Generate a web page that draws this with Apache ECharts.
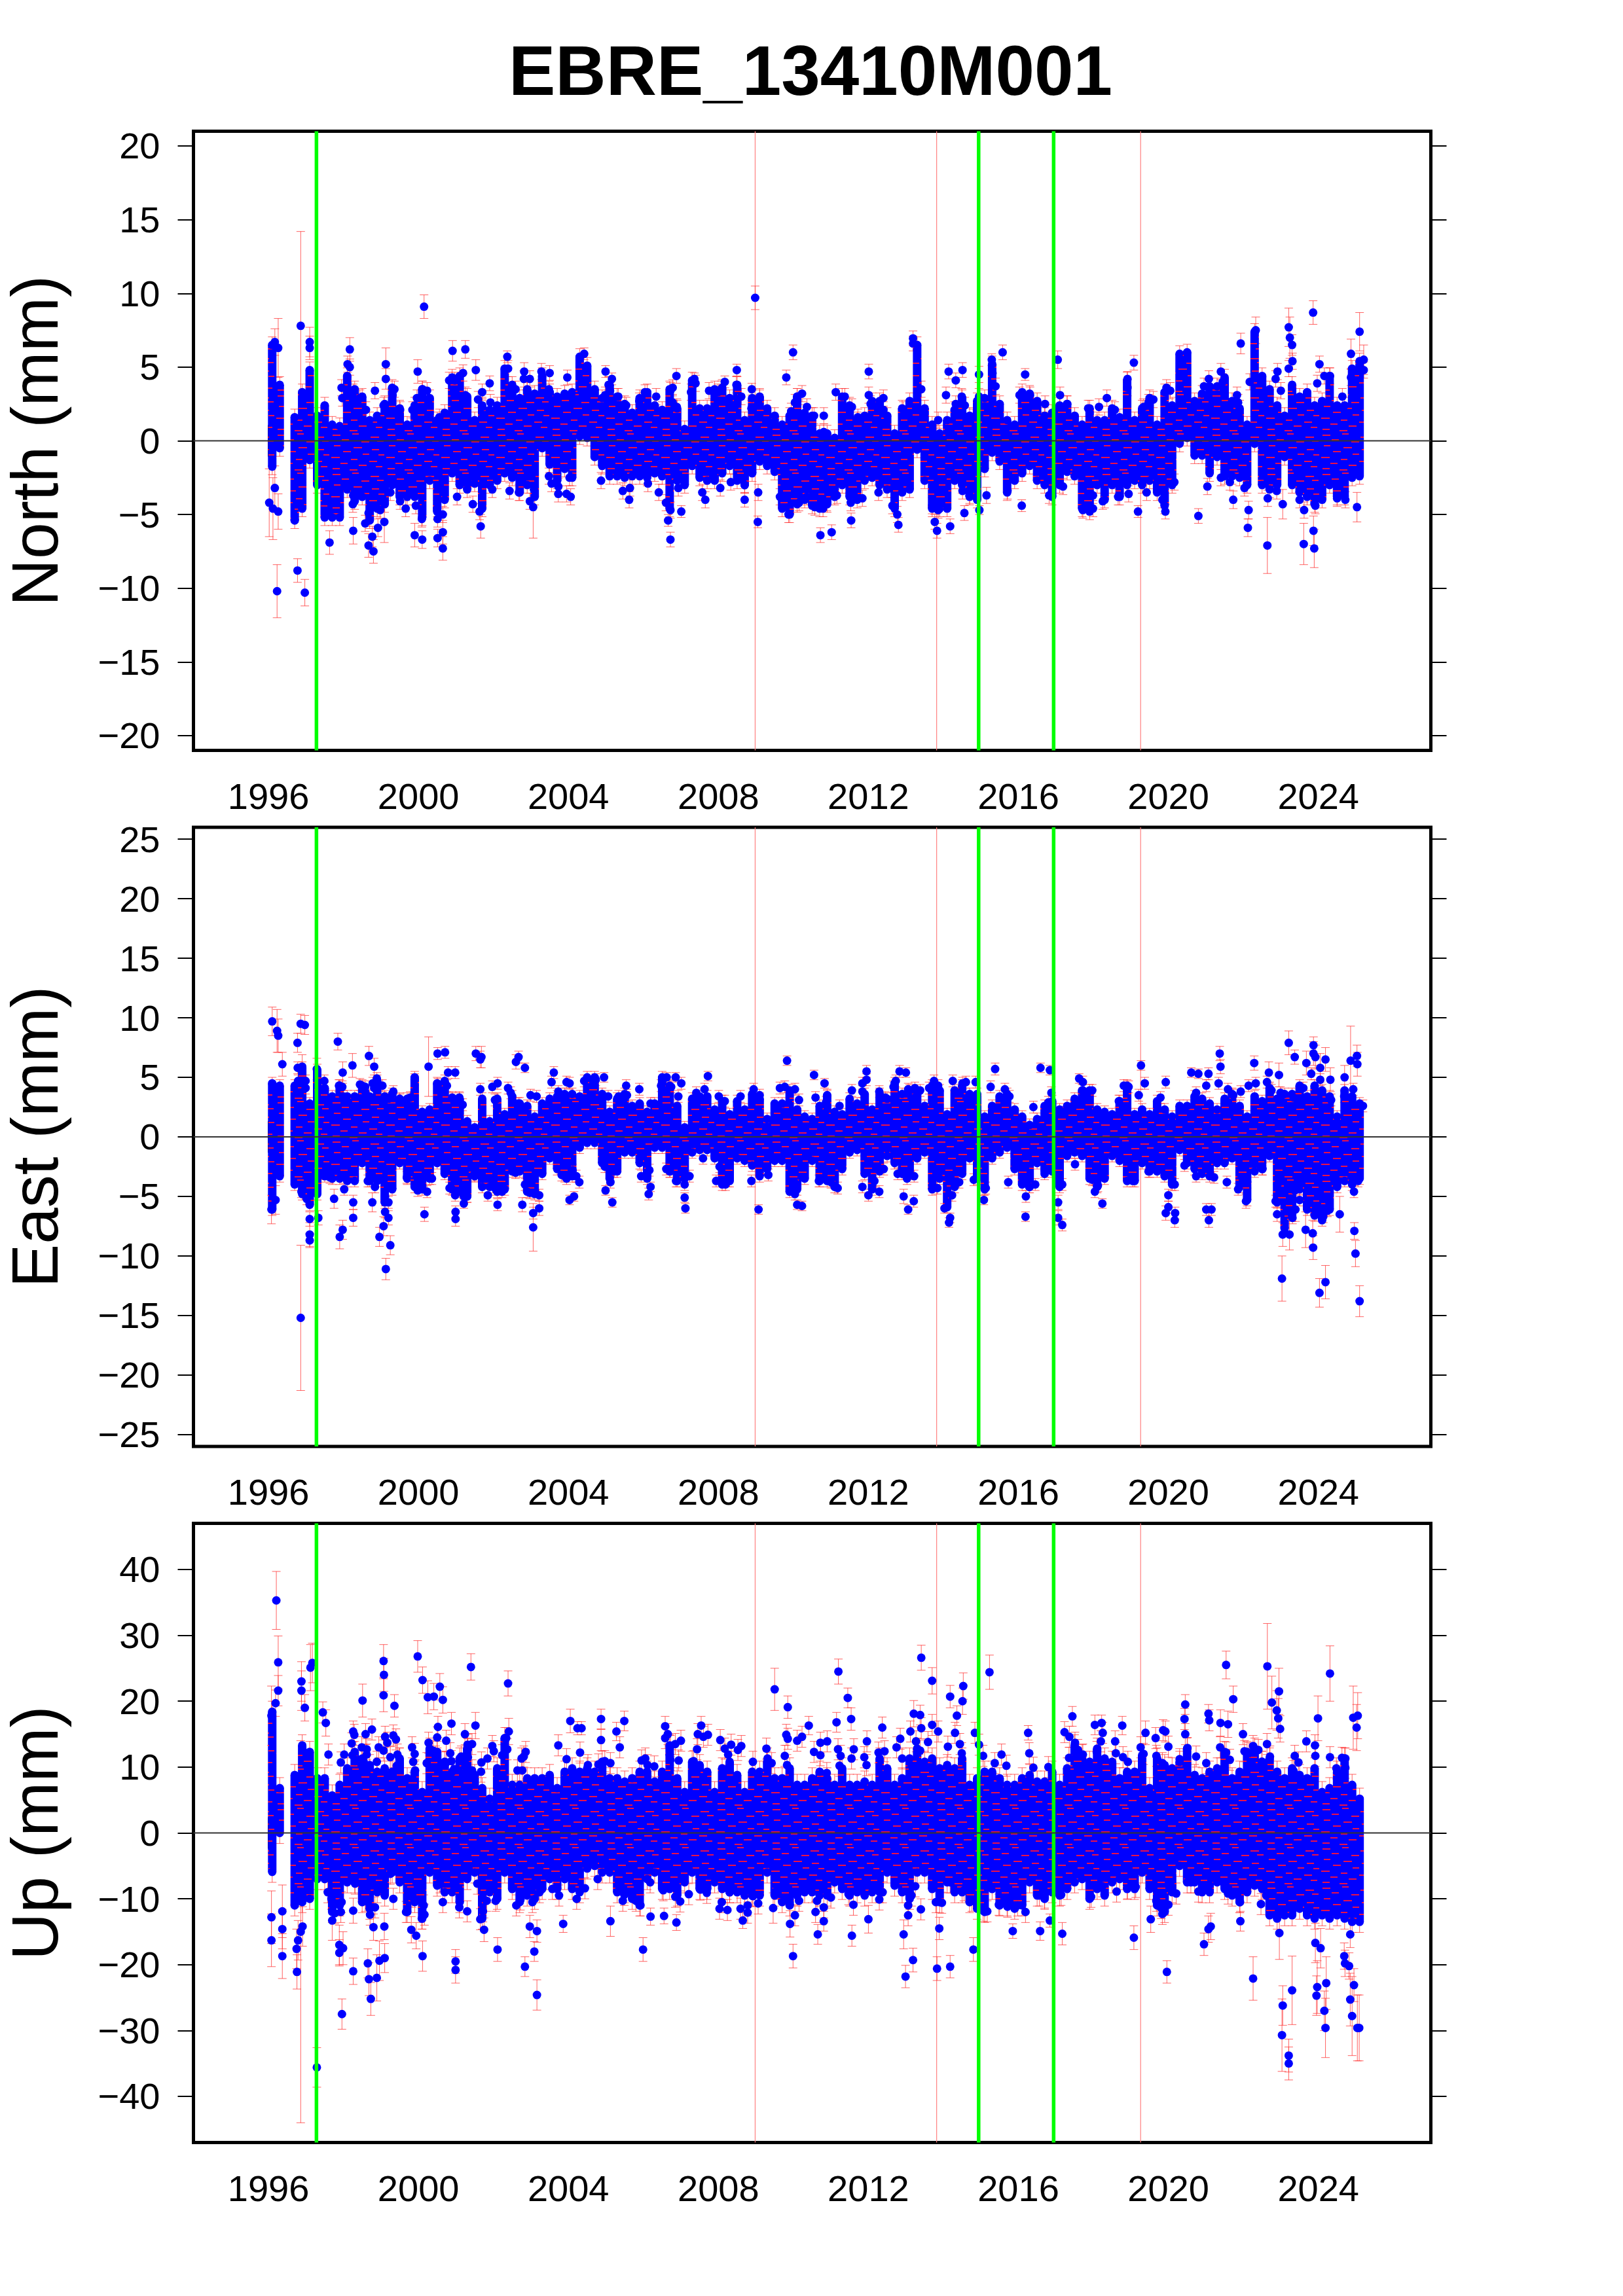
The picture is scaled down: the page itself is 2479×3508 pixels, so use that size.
<!DOCTYPE html>
<html><head><meta charset="utf-8">
<script src="https://cdn.jsdelivr.net/npm/echarts@6/dist/echarts.min.js"></script>
<style>html,body{margin:0;padding:0;background:#fff}#c{width:2479px;height:3508px}</style>
</head><body><div id="c"></div>
<script>
const stationTitle = 'EBRE_13410M001';
const panelNames = ['North (mm)', 'East (mm)', 'Up (mm)'];
const xTicks = [1996,2000,2004,2008,2012,2016,2020,2024];
const northTicks = [-20,-15,-10,-5,0,5,10,15,20];
const eastTicks = [-25,-20,-15,-10,-5,0,5,10,15,20,25];
const upTicks = [-40,-30,-20,-10,0,10,20,30,40];
const yLimits = [21, 26, 47];
const greenBreaks = [1997.28, 2014.94, 2016.94];
const redBreaks = [2008.98, 2013.82, 2019.26];

// Time bins of the dense daily cloud: its upper and lower edge read per bin.
const binYears = [
1996.1,1996.3,1996.5,1996.7,1996.9, 1997.1,1997.3,1997.5,1997.7,1997.9,
1998.1,1998.3,1998.5,1998.7,1998.9, 1999.1,1999.3,1999.5,1999.7,1999.9,
2000.1,2000.3,2000.5,2000.7,2000.9, 2001.1,2001.3,2001.5,2001.7,2001.9,
2002.1,2002.3,2002.5,2002.7,2002.9, 2003.1,2003.3,2003.5,2003.7,2003.9,
2004.1,2004.3,2004.5,2004.7,2004.9, 2005.1,2005.3,2005.5,2005.7,2005.9,
2006.1,2006.3,2006.5,2006.7,2006.9, 2007.1,2007.3,2007.5,2007.7,2007.9,
2008.1,2008.3,2008.5,2008.7,2008.9, 2009.1,2009.3,2009.5,2009.7,2009.9,
2010.1,2010.3,2010.5,2010.7,2010.9, 2011.1,2011.3,2011.5,2011.7,2011.9,
2012.1,2012.3,2012.5,2012.7,2012.9, 2013.1,2013.3,2013.5,2013.7,2013.9,
2014.1,2014.3,2014.5,2014.7,2014.9, 2015.1,2015.3,2015.5,2015.7,2015.9,
2016.1,2016.3,2016.5,2016.7,2016.9, 2017.1,2017.3,2017.5,2017.7,2017.9,
2018.1,2018.3,2018.5,2018.7,2018.9, 2019.1,2019.3,2019.5,2019.7,2019.9,
2020.1,2020.3,2020.5,2020.7,2020.9, 2021.1,2021.3,2021.5,2021.7,2021.9,
2022.1,2022.3,2022.5,2022.7,2022.9, 2023.1,2023.3,2023.5,2023.7,2023.9,
2024.1,2024.3,2024.5,2024.7,2024.9, 2025.1];

const northHi = [
6.5,3.8,null,1.6,3.3, 4.8,1.7,2.4,1.1,1.0,
4.4,3.5,3.0,1.4,1.7, 2.5,3.6,2.2,1.1,2.4,
3.5,2.9,1.4,1.9,4.3, 4.4,3.0,1.4,2.4,2.1,
2.4,4.9,3.8,2.9,3.5, 3.2,4.4,3.3,3.0,3.2,
3.3,5.7,5.1,3.5,2.9, 3.8,3.0,2.5,1.9,2.9,
3.3,2.4,2.1,3.5,2.2, 0.8,4.1,2.2,2.2,3.5,
3.6,2.9,3.8,1.4,2.9, 3.0,2.2,1.7,1.1,1.7,
3.0,1.9,1.7,0.5,0.5, 0.2,3.0,2.4,1.4,1.7,
2.7,2.7,1.7,0.5,2.2, 2.7,6.5,2.2,1.1,0.5,
1.4,2.1,2.9,1.7,2.7, 2.9,5.2,2.5,1.4,1.1,
3.3,3.2,2.7,1.7,1.9, 2.4,2.5,1.7,1.1,2.2,
1.4,1.4,2.2,1.6,4.1, 1.4,2.2,2.9,1.1,3.3,
2.4,5.9,6.0,2.7,3.2, 3.7,3.7,4.3,2.7,2.2,
1.1,7.4,4.4,3.5,2.4, 1.7,3.8,3.0,3.3,2.4,
2.7,4.4,2.4,2.4,4.9, 5.4];
const northLo = [
-1.75,-0.5,null,-5.4,-4.6, -1.3,-3.0,-5.2,-5.2,-5.2,
-3.3,-4.1,-3.8,-5.4,-4.6, -4.3,-3.0,-3.8,-3.8,-3.8,
-5.2,-2.7,-4.8,-4.0,-2.2, -3.0,-3.3,-2.9,-4.6,-3.0,
-2.7,-2.2,-2.5,-3.5,-3.0, -3.8,-0.5,-1.6,-2.7,-1.9,
-2.5,0.3,0.2,-1.1,-1.7, -2.4,-2.4,-2.5,-2.4,-2.4,
-2.5,-2.2,-2.4,-4.6,-2.7, -3.0,-1.7,-2.5,-2.7,-2.7,
-2.2,-1.7,-2.7,-3.0,-2.2, -1.4,-1.7,-2.1,-4.6,-5.0,
-4.3,-4.0,-4.4,-4.6,-4.3, -3.8,-3.0,-3.8,-4.0,-2.7,
-2.5,-3.0,-3.3,-4.6,-3.5, -3.3,-0.6,-2.7,-4.6,-4.6,
-4.6,-2.7,-3.0,-3.8,-4.0, -1.9,-0.8,-1.4,-3.5,-2.7,
-2.2,-1.7,-2.7,-3.0,-3.8, -3.0,-2.1,-2.4,-4.6,-4.8,
-3.0,-4.0,-3.0,-3.8,-3.0, -2.7,-3.0,-2.7,-3.5,-4.4,
-3.0,-0.2,0.2,-1.0,-1.0, -2.2,-1.1,-2.4,-2.4,-2.5,
-3.0,-0.2,-3.0,-3.3,-3.0, -1.1,-3.0,-3.5,-3.8,-4.3,
-4.0,-3.0,-3.8,-3.8,-2.5, -2.4];

const eastHi = [
4.5,4.3,null,4.3,5.8, 2.8,5.6,4.1,3.4,4.3,
3.4,3.4,4.3,3.4,4.7, 3.4,3.6,3.2,3.2,5.0,
2.1,2.3,4.5,4.7,3.2, 3.2,1.3,0.8,3.2,1.3,
3.2,1.9,3.4,2.8,2.6, 1.7,2.8,3.2,3.4,3.6,
3.6,3.4,5.0,5.0,3.6, 2.1,3.2,3.6,2.6,2.8,
2.1,2.8,5.0,4.3,2.6, 0.8,3.2,3.4,3.4,2.3,
3.0,1.9,3.0,2.3,3.6, 3.2,1.5,2.8,2.8,3.9,
2.3,1.7,1.5,2.6,3.4, 2.1,1.9,3.2,2.8,3.6,
2.3,3.6,3.2,4.5,3.6, 3.9,3.6,2.6,4.3,3.9,
1.9,3.9,4.3,3.6,3.6, 1.7,2.6,3.4,3.6,2.3,
1.7,1.0,1.5,2.6,3.0, 2.3,2.6,3.2,3.9,3.9,
2.3,2.1,1.9,3.0,4.3, 1.9,2.3,1.9,3.0,2.3,
1.7,2.6,2.6,3.4,3.2, 2.8,2.3,3.2,3.6,2.6,
1.7,3.4,3.0,4.1,3.2, 3.6,3.6,4.3,3.4,4.3,
3.9,3.4,1.7,3.9,3.4, 2.8];
const eastLo = [
-6.1,-3.3,null,-4.0,-4.8, -5.7,-4.8,-3.3,-3.5,-3.5,
-3.7,-3.7,-2.2,-3.7,-3.7, -5.5,-4.4,-2.2,-3.5,-4.2,
-4.4,-3.5,-2.2,-3.1,-4.4, -4.6,-5.0,-3.3,-4.2,-4.2,
-4.6,-4.4,-2.9,-2.9,-4.6, -4.8,-3.1,-1.8,-2.7,-3.3,
-3.3,-0.9,-0.5,-0.5,-2.2, -3.5,-2.9,-1.3,-1.3,-2.2,
-3.5,-0.9,-0.9,-2.9,-3.7, -3.5,-1.3,-1.1,-1.1,-1.8,
-4.0,-3.7,-1.8,-2.0,-2.4, -3.3,-2.7,-2.0,-2.0,-4.6,
-4.4,-3.5,-2.0,-3.7,-3.7, -4.2,-2.7,-1.3,-1.1,-3.1,
-4.4,-2.9,-1.6,-2.2,-3.1, -3.1,-1.8,-1.3,-4.4,-3.5,
-5.9,-4.2,-3.1,-1.8,-3.5, -4.4,-1.8,-1.3,-0.9,-2.7,
-4.0,-4.2,-2.2,-2.9,-2.9, -4.2,-1.6,-1.3,-1.6,-3.5,
-4.2,-3.5,-1.6,-2.0,-3.7, -3.7,-2.2,-2.9,-2.9,-3.3,
-4.0,-1.1,-2.2,-2.7,-3.1, -3.3,-2.2,-2.2,-1.8,-4.2,
-5.3,-2.9,-2.7,-1.6,-5.5, -7.7,-6.6,-4.4,-6.1,-6.6,
-7.0,-6.1,-4.2,-3.7,-4.0, -3.5];

const upHi = [
18.4,6.8,null,8.8,13.3, 12.3,8.3,8.3,5.7,7.3,
9.8,12.3,11.3,10.3,9.3, 9.8,9.3,11.3,8.3,9.3,
6.2,12.8,12.3,10.8,9.3, 11.3,12.8,8.8,6.8,5.2,
9.8,14.4,7.3,7.3,8.3, 8.3,8.3,8.8,6.8,9.3,
9.8,9.3,9.8,9.3,10.8, 8.3,8.3,7.8,8.3,9.3,
9.3,7.8,9.3,13.3,8.3, 6.2,10.8,10.3,9.3,6.2,
9.8,10.8,8.8,6.2,9.3, 9.3,10.8,8.3,8.3,9.8,
7.3,7.3,8.3,9.3,8.3, 7.3,9.8,7.3,7.3,7.8,
7.3,11.3,9.8,7.3,8.3, 11.3,12.8,10.8,11.3,9.8,
10.3,9.8,11.3,7.3,8.3, 9.3,9.3,8.3,7.3,7.3,
8.3,8.8,7.8,7.8,9.3, 7.3,9.8,13.3,11.8,10.8,
12.8,11.3,10.8,8.3,9.3, 9.3,11.8,6.8,11.3,10.3,
9.8,10.8,12.8,8.8,8.3, 9.3,9.8,12.3,8.3,9.3,
12.3,12.8,10.8,11.3,9.3, 8.3,9.8,8.8,8.3,9.8,
6.2,6.8,9.3,11.3,7.3, 5.2];
const upLo = [
-5.9,0,null,-11,-10.5, -10,-7,-7,-12,-11,
-7.5,-7.5,-10.5,-11.5,-9, -9.5,-6,-7.5,-12,-10.5,
-13,-6,-8,-9,-9, -10.5,-7,-6,-13,-9,
-10,-6,-8.5,-10.5,-9.5, -10,-8.5,-7,-8.5,-7,
-8.5,-9,-5.4,-5,-6, -6,-9,-9,-10,-11,
-7,-6,-8.5,-8.5,-9.5, -7.5,-6,-8.5,-8.5,-7.5,
-8.5,-9,-9,-9.5,-9.5, -9.5,-6,-9.5,-10.5,-11,
-9.5,-9,-9,-9.5,-9.5, -7.5,-8.5,-9.5,-9,-9.5,
-9,-9,-6,-8,-9, -10,-6,-6,-8.5,-10.5,
-7.5,-9,-9,-10.5,-11.5, -12,-8.5,-11,-11,-11.5,
-11,-7.5,-9.5,-10,-9, -9.5,-8.5,-7.5,-7,-10,
-8.5,-9.5,-7.5,-7,-8.5, -8.5,-6,-8.5,-11,-12,
-9,-5,-7.5,-7.5,-9, -9,-7.5,-8.5,-9.5,-10.5,
-9,-8,-8.5,-12.5,-13, -12.5,-12.5,-11.5,-12.5,-13,
-12.5,-13,-12.5,-13,-13.5, -13.5];

// Typical daily error of the dense cloud, per component (mm).
const cloudSigma = [0.55, 0.5, 1.6];

// Isolated epochs: [year, value, sigma]
const northPoints = [
[1996.86,7.8,6.4],[2000.15,9.1,.8],[2008.98,9.7,.8],[1996.23,-10.2,1.8],[1996.775,-8.8,.8],[1996.97,-10.3,.9],
[1996.02,-4.2,2.3],[1996.12,-4.6,2.1],[1996.26,-4.8,1.2],[1996.17,-3.2,1.5],[1997.1,6.7,1],[1997.1,6.3,.8],
[1996.17,6.7,.9],[1996.26,6.3,2],[1998.17,6.2,.8],[1999.13,5.2,1.1],[1999.13,4.2,.7],[1999.98,4.7,.8],
[2000.91,6.1,.7],[2001.25,6.2,.6],[2001.53,4.8,.7],[2001.9,3.9,.5],[2002.37,5.7,.4],[2002.82,4.7,.6],
[2003.5,4.6,.5],[2003.97,4.3,.5],[2004.42,5.9,.4],[2004.99,4.7,.4],[2005.16,4.2,.4],[2006.04,3.3,.5],
[2006.88,4.4,.5],[2007.36,4.2,.4],[2008.17,4,.4],[2008.49,4.8,.4],[2008.89,3.5,.4],
[1997.63,-6.9,.8],[1998.26,-6.1,.9],[1998.67,-7.1,.8],[1998.8,-7.5,.8],[1998.77,-6.5,.7],[1998.92,-5.9,.6],
[1999.09,-5.5,1.4],[1999.9,-6.4,.8],[2000.1,-6.7,.6],[2000.51,-6.6,.6],[2000.65,-6.2,.8],[2000.65,-7.3,.8],
[2001.66,-5.8,.8],[2003.06,-4.5,2.1],[2006.66,-5.4,.4],[2006.72,-6.7,.5],[2007.01,-4.8,.4],[2009.05,-5.5,.4],[2008.7,-4,.5],
[2009.99,6,.5],[2009.81,4.3,.5],[2012.01,4.7,.5],[2013.19,6.95,.5],[2013.19,6.6,.5],[2014.14,4.7,.5],
[2014.51,4.8,.5],[2014.33,4.1,.5],[2015.29,5.5,.4],[2015.58,6,.5],[2016.18,4.5,.4],[2017.05,5.5,.6],
[2019.08,5.3,.5],[2018.91,4.2,.5],[2021.93,6.6,.7],[2022.33,7.5,.9],[2023.21,7.7,1.3],[2023.24,7,1.4],
[2023.3,6.5,.7],[2023.86,8.7,.8],[2025.1,7.4,1.3],[2024.87,5.9,1],[2025.21,5.5,1],
[2010.72,-6.4,.5],[2011.02,-6.2,.5],[2011.54,-5.4,.5],[2012.8,-5.7,.5],[2013.83,-6.1,.5],[2013.77,-5.5,.5],
[2014.18,-5.8,.5],[2014.56,-4.9,.5],[2014.96,-4.7,.3],[2016.09,-4.4,.4],[2019.19,-4.8,.4],[2019.92,-4.8,.5],
[2020.8,-5.1,.5],[2021.73,-4,.6],[2022.14,-4.7,.6],[2022.12,-5.9,.6],[2022.64,-7.1,1.9],[2023.61,-7,1.4],
[2023.89,-7.3,1.3],[2023.87,-6.1,1],[2023.05,-4.3,1],[2025.03,-4.5,1]];

const eastPoints = [
[1996.1,9.7,1.2],[1996.23,8.9,1.8],[1996.26,8.5,1.4],[1996.86,9.5,.8],[1996.97,9.4,.8],[1996.775,7.9,.8],
[1996.9,5.9,1],[1996.37,6.1,1],[1997.85,8,.7],[1997.29,5.7,.9],[1998.68,6.8,.8],[1998.24,6,1],
[1997.98,5.4,.9],[1998.82,5.9,.7],[2000.27,5.9,2.5],[2000.51,7,.5],[2000.71,7.1,.5],[2001.53,7,.6],
[2001.68,6.7,.9],[2001.65,6.5,.7],[2002.67,6.7,.5],[2002.6,6.3,.6],[2002.84,5.8,.4],[2003.61,5.4,.5],
[2004.95,5,.4],[2007.72,5.1,.4],[2006.86,5,.4],[2006.62,5,.4],
[1996.08,-6.1,1.2],[1996.19,-5.3,1.2],[1996.86,-15.2,6.1],[1997.1,-6.9,.6],[1997.1,-8.2,1],[1997.1,-8.7,.6],
[1997.33,-6.8,.6],[1997.75,-5.2,.8],[1997.9,-8.4,1],[1997.98,-7.8,.8],[1998.26,-6.8,.7],[1998.26,-5.5,.6],
[1998.77,-5.5,.8],[1998.96,-8.4,.8],[1999.07,-7.5,.8],[1999.2,-6.8,.6],[1999.25,-9.1,.8],[1999.13,-11.1,.9],
[2000.16,-6.5,.6],[2000.99,-6.9,.6],[2000.99,-6.3,.5],[2001.21,-5.6,.4],[2002.11,-5.7,.5],[2002.77,-5.7,.6],
[2003.06,-6.4,.5],[2003.06,-7.6,2],[2003.22,-6,.6],[2004.03,-5.3,.4],[2004.15,-5,.4],[2005.17,-5.5,.4],
[2004.99,-4.5,.4],[2006.19,-4.2,.4],[2007.12,-6,.4],[2007.1,-5.1,.4],[2009.07,-6.1,.4],
[2009.83,6.4,.4],[2010.55,5.2,.4],[2010.83,4.5,.4],[2011.95,5.5,.5],[2012.83,5.5,.5],[2013,5.4,.4],
[2015.38,5.7,.5],[2016.59,5.8,.4],[2016.84,5.6,.4],[2017.62,4.9,.4],[2019.27,6,.4],[2019.93,4.6,.5],
[2021.37,7,.6],[2021.39,5.9,.6],[2020.61,5.4,.4],[2020.8,5.3,.4],[2021.07,5.3,.5],[2022.29,6.2,.6],
[2022.68,5.4,.9],[2022.95,5.2,1],[2023.21,7.9,1],[2023.37,6.7,.6],[2023.87,7.7,.7],[2023.87,7,1],
[2023.92,6.7,1],[2024.19,6.5,1],[2023.68,6.2,1],[2024.05,5.8,1.2],[2024.32,4.8,1],[2024.86,6.4,2.9],
[2025.03,6.8,.9],[2025.04,6.1,1],[2024.7,5,1],
[2010.1,-5.7,.4],[2010.23,-5.8,.4],[2012,-4.9,.5],[2012.94,-5,.6],[2013.06,-6.1,.4],[2013.21,-5.4,.5],
[2014.15,-7.2,.4],[2014.18,-6.8,.4],[2014.03,-6,.4],[2015.08,-5.3,.4],[2016.19,-6.7,.4],[2016.2,-5,.5],
[2017.06,-5.5,.6],[2017.06,-6.8,.6],[2017.17,-7.4,.5],[2018.24,-5.6,.4],[2019.93,-6.4,.6],[2020,-5.9,.5],
[2020.18,-6.4,.5],[2020.17,-7,.6],[2021.01,-6.1,.5],[2021.15,-6.1,.5],[2021.08,-7,.6],[2022.07,-5.4,.6],
[2023.03,-11.9,1.9],[2023.23,-8.2,1.3],[2023.05,-8.2,1],[2022.9,-6.5,.6],[2023.66,-7.8,1.5],[2023.85,-8.1,1.1],
[2023.86,-9.3,1],[2024.03,-13.1,1.2],[2024.19,-12.2,1.4],[2024.57,-6.5,1.5],[2024.96,-7.9,.7],[2024.99,-9.8,1.1],
[2025.1,-13.8,1.3],[2023.39,-6.1,1]];

const upPoints = [
[1996.21,35.3,4.4],[1996.26,25.9,4],[1996.26,21.6,2.3],[1996.19,19.7,2],[1996.08,17.8,4.5],[1996.88,23,3],
[1996.88,21.6,3],[1996.97,19,2],[1997.17,25.8,3],[1997.12,25.1,3.5],[1997.45,18.3,1.6],[1997.53,16.7,2],
[1998.51,20.1,2.5],[1999.07,26.1,2.5],[1999.08,24,2.5],[1999.07,20.9,2.5],[1999.36,19.3,1.7],[1999.98,26.8,2.4],
[2000.11,23.2,2],[2000.25,20.6,2.5],[2000.41,20.7,2],[2000.57,22.2,2],[2000.65,20.2,2],[2001.4,25.2,2],
[2002.39,22.7,1.9],[2002.41,15.4,2],[2001.52,16.3,2],[2000.88,16.6,1.7],[2004.05,17,1.8],[2004.24,15.9,1],
[2004.35,15.9,1],[2004.87,17.3,1.5],[2005.49,17,1.5],[2006.58,16.2,1.5],[2007.54,16.3,1.4],[2005.28,15.4,1.4],[2009.5,21.8,3.2],
[1997.29,-35.6,3],[1996.08,-16.3,4],[1996.37,-18.7,3.4],[1996.08,-12.8,4],[1996.37,-11.9,4],[1996.37,-14.6,3],
[1996.76,-21.1,2.6],[1996.75,-17.6,3],[1996.79,-16.3,3],[1996.91,-14.2,3],[1996.86,-15,29],[1997.7,-13.3,3],
[1997.89,-17,3],[1997.89,-18.2,2],[1997.99,-17.5,2.5],[1997.96,-27.5,2.3],[1998.26,-21,2],[1998.26,-11.8,1.9],
[1998.65,-19.8,2.2],[1998.68,-22.2,2.5],[1998.73,-25.2,2.5],[1998.89,-22,3.5],[1998.96,-19.4,3],[1999.1,-19,2.2],
[1999.09,-14.2,2],[1998.8,-14.3,2],[1999.81,-14.7,2],[1999.94,-15.6,2],[2000.11,-18.7,2.3],[2000.99,-19.5,1.8],
[2000.99,-20.8,2],[2002.11,-17.7,1.8],[2001.75,-14.7,1.8],[2002.84,-20.3,1.5],[2003.09,-18,1.5],[2003.16,-24.6,2.3],
[2002.97,-14.2,1.7],[2003.16,-14.9,1.7],[2003.86,-13.8,1.3],[2005.12,-13.4,2.3],[2005.99,-17.7,1.8],[2006.19,-12.7,1.3],
[2006.55,-12.6,1.2],[2006.88,-13.6,1.2],[2008.65,-13.3,1.2],[2009.46,-11.4,2.3],
[2009.85,19.1,1.7],[2011.2,24.5,1.9],[2011.45,20.5,1.5],[2011.54,17.3,1.7],[2011.15,16.8,1.5],[2010.41,16.3,1.4],
[2013.41,26.6,1.9],[2013.7,23.1,2],[2014.53,22.3,2],[2014.18,20.7,1.7],[2014.51,20,2],[2013.21,18.1,2],
[2013.38,17.9,1.5],[2014.36,17.8,1.5],[2015.23,24.4,2.6],[2016.26,15.2,1.1],[2017.44,17.7,1.5],[2018.22,16.7,1.2],
[2018.04,16.4,1.5],[2018.77,16.3,1.4],[2019.39,15.2,1.8],[2020.45,19.5,1.5],[2020.43,17.3,1.6],[2021.07,18.1,1.4],
[2021.09,17.1,1.6],[2021.39,16.7,2],[2021.59,16.5,2],[2021.54,25.5,2.1],[2021.73,20.3,2],[2022.64,25.3,6.5],
[2022.76,19.8,4],[2022.95,21.5,3.5],[2022.89,18.6,3],[2022.93,17.4,3],[2022.98,15.8,2],[2024.31,24.2,4.2],
[2023.99,17.4,3.4],[2024.93,17.5,4.8],[2025.05,17.8,3.5],[2025.02,16,3.5],
[2009.99,-18.7,1.8],[2009.91,-13.8,2],[2010.65,-15.4,1.5],[2010.81,-13.4,1.5],[2011.56,-15.6,1.6],[2012,-13.1,2.1],
[2012.94,-15.4,2.2],[2012.99,-21.8,1.7],[2013.19,-19.3,1.8],[2013.89,-14.5,1.7],[2013.83,-20.6,1.8],[2014.18,-20.3,1.7],
[2014.8,-17.7,1.8],[2015.85,-14.9,1.1],[2016.58,-14.9,1.4],[2016.84,-13.3,1],[2017.17,-15.3,1.7],[2019.08,-15.9,1.8],
[2019.53,-13.1,2],[2019.96,-21.1,1.7],[2020.95,-16.9,1.7],[2021.07,-14.6,2],[2021.13,-14.2,2],[2022.26,-22.1,3.3],
[2021.92,-13.4,1.5],[2022.96,-15.2,4],[2023.05,-26.2,3],[2023.03,-30.7,5.5],[2023.21,-33.8,2.5],[2023.21,-35,2.5],
[2023.3,-23.9,5.2],[2023.92,-16.7,3],[2024.06,-17.5,3],[2023.97,-23.4,4],[2023.95,-24.7,3],[2024.21,-22.8,4],
[2024.16,-27,3],[2024.19,-29.6,4.5],[2024.69,-18.7,2],[2024.71,-19.8,2],[2024.82,-20.2,2],[2024.95,-23.1,2.5],
[2024.85,-25.3,4],[2024.9,-27.8,6],[2025.04,-29.6,5],[2025.09,-29.6,5],[2024.85,-15.4,2]];

// Dots on the fringe of the cloud: [year, value]
const northFringe = [
[1998.11,5.2],[1998.17,5],[1997.95,3.6],[1997.97,2.9],[1998.26,3.3],[1998.44,2.9],[1998.6,2.1],[1998.84,3.4],[1999.07,2.4],[1999.36,3.5],
[1999.31,3.1],[1999.51,2.1],[1999.84,2.1],[1999.96,2.9],[2000.11,3.5],[2000.23,3.4],[2000.27,2.5],[2000.56,1.6],[2000.82,4.1],[2000.97,4.1],
[2001.19,4.6],[2001.25,3.1],[2001.59,2.8],[2001.7,3.3],[2001.92,2.6],[2001.7,2.3],[2002.39,4.9],[2002.59,3.5],[2002.81,4.2],[2002.97,4.2],
[2002.9,3.4],[2003.28,4.7],[2003.48,3.5],[2005.07,3.8],[2005.11,3.4],[2004.98,3.1],[2005.33,3],[2005.54,2.4],[2005.89,2.7],[2006.34,3],
[2006.72,3.4],[2006.78,3.6],[2006.78,2.6],[2006.89,2.3],[2007.27,3.3],[2007.39,3.9],[2007.75,3.4],[2007.99,3.3],[2008.08,3.5],[2008.48,3.8],
[2008.61,3],[2008.88,2.2],[2009.1,2.9],
[1998.26,-3.7],[1998.25,-4.3],[1998.67,-4.9],[1998.58,-5.6],[1998.98,-4.7],[1999.25,-3.5],[1999.51,-4.1],[1999.66,-4.6],[1999.93,-4.4],[2000.09,-5.3],
[2000.5,-4.6],[2000.51,-5.3],[2000.65,-5],[2001.03,-3.8],[2001.45,-4.3],[2001.63,-4.8],[2001.97,-3.3],[2002.43,-3.4],[2002.68,-3.5],[2002.97,-4.1],
[2003.08,-3.3],[2003.48,-2.4],[2003.55,-2.9],[2003.73,-3.1],[2003.73,-3.6],[2003.95,-3.6],[2004.06,-3.8],[2004.03,-2.5],[2004.87,-2.7],[2005.45,-3.4],
[2005.64,-3.2],[2005.62,-4],[2006.12,-2.9],[2006.41,-3.5],[2006.6,-4.2],[2006.72,-4.7],[2006.93,-3.2],[2007.57,-3.5],[2007.65,-4],[2008.05,-3.2],
[2008.33,-2.8],[2008.7,-3],[2009.06,-3.5],[2009.64,-3.8],
[2010.04,2.6],[2010.1,3],[2010.23,3.2],[2009.94,2],[2010.36,2.3],[2010.55,1.7],[2010.81,1.7],[2010.81,.6],[2011.13,3.3],[2011.37,3],
[2011.56,2.3],[2011.72,1.6],[2012.01,3.1],[2012.06,2.5],[2012.4,2.9],[2012.4,2.1],[2012.93,2.1],[2013.41,3.5],[2013.86,1.4],[2014.07,3.1],
[2014.33,2.5],[2014.49,3],[2014.57,2.4],[2014.79,1.6],[2014.95,4.5],[2014.95,3],[2015.31,4.6],[2015.39,3.7],[2016.03,3.1],[2016.31,3.1],
[2016.71,2.5],[2017.11,3.1],[2017.3,2.5],[2017.86,2.2],[2018.15,2.3],[2018.36,2.9],[2018.57,2.1],[2018.91,3.6],[2019.34,2.3],[2019.6,2.8],
[2019.47,2.6],[2019.95,3.6],[2020.05,3.4],[2020.95,3.7],[2021.08,4.2],[2021.4,4.7],[2021.45,4],[2021.83,3.1],[2021.86,2.6],[2022.17,4],
[2022.86,4.2],[2022.91,4.7],[2023,3.4],[2023.21,4.9],[2023.31,5.4],[2023.97,3.9],[2024.03,5.2],[2024.16,4.4],[2024.31,4.4],[2024.64,3],
[2024.87,4.3],[2025.21,4.8],
[2009.87,-5],[2010.15,-4.2],[2010.57,-4.5],[2010.79,-4.6],[2010.36,-3.8],[2010.89,-4.2],[2011.16,-3.7],[2011.53,-4.2],[2011.84,-3.9],[2012.27,-3.5],
[2012.64,-4.4],[2012.77,-5],[2013.7,-4.4],[2013.86,-4.7],[2014.02,-3.4],[2014.51,-3.4],[2014.7,-3.7],[2015.15,-3.7],[2015.71,-3.4],[2016.82,-3.7],
[2017.19,-3.1],[2017.72,-4.7],[2017.99,-4.6],[2018.25,-4.1],[2017.99,-3.7],[2018.66,-3.8],[2018.94,-3.6],[2019.42,-3.5],[2019.84,-4],[2020.16,-2.8],
[2021.04,-3.1],[2021.4,-2.5],[2021.64,-2.8],[2022.03,-3.2],[2022.65,-3.9],[2022.89,-3.4],[2023.5,-4],[2023.62,-4.7],[2023.92,-4.4],[2024.5,-3.9],[2024.72,-4]];

const eastFringe = [
[1996.78,5.8],[1996.79,4.7],[1996.99,4.7],[1996.99,4.1],[1997.49,4.7],[1997.42,4],[1997.88,4.3],[1997.97,4.2],[1997.99,3.4],[1998.44,4.4],
[1998.58,4.2],[1998.58,3.8],[1998.78,4.5],[1998.89,4.9],[1998.82,4.1],[1999.04,4.3],[1999.2,3.2],[1999.33,3.8],[1999.51,3.1],[1999.78,3.3],
[1999.9,4.8],[2000.52,4.4],[2000.52,3],[2000.76,4.3],[2000.79,5.4],[2000.98,5.4],[2000.9,3.3],[2001.09,3.3],[2001.18,2.7],[2001.65,4],
[2001.97,4.2],[2002.11,4.5],[2002.04,3.1],[2002.39,4.1],[2002.46,3.7],[2002.66,2.8],[2002.99,3.5],[2003.15,3.4],[2003.55,4.6],[2003.73,3.8],
[2003.95,4.6],[2004.03,4.5],[2004.42,4.7],[2004.73,4.8],[2005.06,3.4],[2005.34,3.4],[2005.54,4.3],[2005.56,3.5],[2005.89,4],[2006.19,2.8],
[2006.47,4.3],[2006.74,4.2],[2006.93,3.4],[2007.01,4.5],[2007.41,3.7],[2007.63,4],[2008.01,3.4],[2008.17,3],[2008.59,3.4],[2008.94,4],[2009.1,3.5],[2009.64,4.1],
[1996.88,-4.6],[1997.02,-5.2],[1997.46,-3.1],[1997.64,-3.4],[1998.02,-4.4],[1998.65,-3.7],[1998.84,-4.2],[1999.11,-5],[1999.2,-5.5],[1999.11,-6.3],
[1999.69,-3.4],[1999.98,-4.5],[2000.23,-4.6],[2000.36,-3.5],[2000.83,-4.3],[2000.98,-4.9],[2001.21,-5],[2001.3,-5],[2001.48,-3.2],[2001.85,-4.9],
[2002.06,-4.4],[2002.23,-4.6],[2002.59,-3],[2002.84,-4],[2002.97,-4.7],[2003.22,-4.9],[2003.82,-3.2],[2003.95,-3.5],[2004.11,-2.8],[2004.21,-3.3],
[2004.29,-3.8],[2004.97,-2.5],[2005.12,-3.8],[2005.22,-2.9],[2005.94,-3.3],[2006.16,-2.8],[2006.14,-4.8],[2006.61,-2.7],[2006.71,-2.9],[2006.87,-3.7],
[2007.1,-4],[2007.23,-3.3],[2007.59,-1.8],[2007.94,-3.7],[2008.03,-2.5],[2008.19,-4],[2008.26,-3.7],[2008.88,-3.7],[2009.33,-3.2],
[2009.77,4.2],[2010.04,4],[2010.15,3.1],[2010.59,3.3],[2010.9,3.5],[2010.87,2.9],[2011.23,2.6],[2011.56,3.9],[2011.84,3.8],[2011.95,4.8],
[2011.84,4.5],[2012.29,3.8],[2012.45,3.3],[2012.67,4.2],[2012.73,4.7],[2013.06,4],[2013.24,4.1],[2013.38,3.9],[2013.62,4.1],[2013.75,4.7],
[2013.86,4.3],[2014.25,4.7],[2014.51,4.5],[2014.6,4.6],[2014.86,4.6],[2015.26,4.2],[2015.64,4],[2015.76,3.4],[2016.4,2.5],[2016.8,2.9],
[2016.88,3.7],[2017.72,4.6],[2017.97,3.9],[2017.72,3.9],[2018.68,3],[2018.81,4.3],[2018.94,4.2],[2019.21,3.5],[2019.37,4.5],[2019.79,3.3],
[2020.74,3.7],[2021.01,4.3],[2021.34,4.5],[2021.59,4],[2021.73,3.5],[2021.93,3.8],[2022.14,4.3],[2022.33,4.5],[2022.63,4.6],[2022.75,3.9],
[2022.99,3.7],[2023.34,3.3],[2023.6,4.1],[2023.81,5.3],[2024.05,4.8],[2024.34,3.1],[2024.69,3.4],[2024.93,4],[2025.19,2.6],
[2010.04,-4.8],[2010.02,-3.8],[2010.68,-3.7],[2010.87,-2.7],[2011,-3.8],[2011.18,-4.3],[2011.84,-4.2],[2012.16,-3.7],[2012.29,-4.6],[2012.41,-2.7],
[2012.78,-3.1],[2013.03,-3.5],[2013.22,-3.3],[2013.84,-4.3],[2014.23,-4.9],[2014.42,-3.8],[2014.81,-3.6],[2015.13,-4.3],[2015.73,-3.8],[2016.29,-4.2],
[2016.45,-4],[2016.7,-3.1],[2017.17,-4],[2017.51,-2.3],[2017.97,-3.6],[2018.12,-4.1],[2018.04,-4.6],[2019.05,-3.7],[2019.47,-2.9],[2020,-4.9],
[2020.17,-4],[2020.43,-2.4],[2020.74,-3.3],[2021.22,-3.4],[2021.56,-3.8],[2021.86,-4.4],[2022.1,-3.8],[2022.51,-2.7],[2022.91,-4],[2022.86,-5.4],
[2023.31,-6.8],[2023.37,-4.5],[2023.5,-5.3],[2023.94,-5.9],[2024.29,-5.5],[2024.13,-6.7],[2024.24,-6.2],[2024.95,-4.6],[2025.06,-3.7]];

const upFringe = [
[1997.6,11.9],[1997.93,10.7],[1998.02,11.9],[1998.22,13.6],[1998.26,15.4],[1998.29,14.9],[1998.59,15],[1998.49,13],[1998.62,12.7],[1998.62,11.9],
[1998.24,11.8],[1998.31,10.9],[1998.54,10.8],[1998.62,10.1],[1998.76,15.7],[1998.94,13],[1999.07,12.5],[1999.11,14.6],[1999.17,13.7],[1999.33,14.8],
[1999.4,14.2],[1999.25,11.5],[1999.44,11.9],[1999.49,11.3],[1999.42,10.2],[1998.89,10.8],[1999.83,13],[1999.9,12],[1999.86,10.8],[1999.91,9.5],
[2000.27,13.7],[2000.22,10.6],[2000.39,12.5],[2000.5,14.5],[2000.52,16.1],[2000.74,14],[2000.85,12.1],[2000.88,10.9],[2000.74,10.7],[2000.46,11.6],
[2001.24,15],[2001.31,13.4],[2001.43,13.5],[2001.32,12.7],[2001.14,11.6],[2001.32,11.5],[2000.95,9.7],[2001.25,10.1],[2001.43,9.5],[2001.68,10.7],
[2001.84,11.3],[2001.67,9.3],[2001.97,13.2],[2002.01,12.4],[2002.23,11.8],[2002.37,12.7],[2002.34,14.4],[2002.81,11.6],[2002.86,12.3],[2002.75,11.3],
[2002.64,9.5],[2002.77,9.5],[2003.73,13.3],[2003.95,11.2],[2004.31,12.2],[2004.97,10.9],[2005.12,10.6],[2004.8,10.4],[2004.52,10.3],[2004.87,14.1],
[2005.37,13],[2005.95,11],[2006.05,11.3],[2006.11,10.3],[2006.29,10.1],[2006.58,14.4],[2006.65,15],[2006.72,13.2],[2006.85,13.5],[2007,14],
[2006.7,11.9],[2006.72,11.1],[2006.94,11],[2007.34,10.9],[2007.45,15],[2007.43,12.7],[2007.6,14.6],[2007.72,14.9],[2008.05,14.1],[2008.17,12.8],
[2008.34,13.4],[2008.61,13.2],[2008.26,11.9],[2008.52,12.6],[2008.92,10.8],[2009.28,12.8],[2009.31,11.3],[2009.42,10.6],
[1997.58,-9],[1997.68,-10],[1997.95,-10.5],[1997.93,-12],[1997.77,-12.2],[1998.31,-7.7],[1998.58,-10.3],[1998.71,-12.4],[1998.84,-11.3],[1999.33,-10],
[1999.25,-6.2],[1999.67,-12],[1999.83,-9.7],[2000.14,-11],[2000.16,-12.4],[2000.09,-13],[2000.57,-7.5],[2000.65,-10.5],[2001.09,-11.3],[2001.3,-11.9],
[2001.57,-7.7],[2001.72,-11.9],[2001.65,-13.1],[2001.82,-10.3],[2002.06,-10.3],[2002.61,-11],[2002.72,-10.1],[2003.04,-10.5],[2003.23,-9],[2003.57,-8.5],
[2003.75,-9.5],[2004.22,-10],[2004.44,-8.4],[2004.78,-7],[2005.45,-10.3],[2005.49,-9.4],[2005.8,-10.3],[2005.92,-11],[2006.18,-7.5],[2006.53,-8.7],
[2006.85,-9.7],[2006.98,-10.4],[2007.21,-9.3],[2007.52,-8.6],[2007.69,-9.1],[2008.09,-10.5],[2008.03,-11.5],[2008.24,-11.7],[2008.3,-9],[2008.59,-11.5],
[2008.78,-11],[2008.78,-12.1],[2009.06,-10.7],[2008.92,-9.6],[2009.57,-8.5],
[2009.81,14.9],[2009.85,14.3],[2009.77,11.7],[2009.83,10.3],[2010.1,14],[2010.23,14.6],[2010.55,12.3],[2010.72,13.7],[2010.9,13.9],[2010.72,11.8],
[2010.89,9.1],[2011.19,12.7],[2011.26,11.7],[2011.23,10.2],[2011.55,11.3],[2011.61,12.7],[2011.89,11.5],[2011.95,10.3],[2011.96,13.9],[2012.27,12.2],
[2012.43,12.4],[2012.37,16],[2012.75,13],[2012.85,14.3],[2012.9,11.3],[2013.12,15.4],[2013.27,13.9],[2013.41,15.9],[2013.59,13.8],[2013.38,12.5],
[2013.35,10.3],[2013.86,15.4],[2013.7,16.4],[2014.12,13.1],[2014.31,15.2],[2014.44,13.5],[2014.49,12.1],[2014.84,15.2],[2014.95,13.4],[2015.06,11.7],
[2015.55,11.9],[2015.37,10.6],[2015.68,10.2],[2016.29,12.1],[2016.4,9.9],[2016.8,10],[2017.23,15.3],[2017.36,14.6],[2017.51,13.7],[2017.59,12.6],
[2017.72,11.9],[2017.35,11.4],[2018.2,13.9],[2018.09,12.3],[2018.25,15.2],[2018.58,13.9],[2018.6,12.1],[2018.79,11.5],[2018.92,10.8],[2019.26,13],
[2019.34,12],[2019.66,14.4],[2019.68,11.7],[2019.86,15.6],[2019.92,15.4],[2020,13.1],[2019.84,10.6],[2020.45,15],[2020.51,12.9],[2020.74,11.6],
[2020.3,11.2],[2021.01,10.6],[2021.38,13],[2021.54,12.2],[2021.64,11.1],[2021.99,15],[2022.03,12.4],[2022.26,13.2],[2022.4,12.6],[2022.15,12.1],
[2022.49,10.8],[2022.63,13.5],[2022.71,11.6],[2023.37,11.7],[2023.68,13.9],[2023.91,13.3],[2023.92,11.7],[2024.31,11.5],[2024.63,11.4],[2024.72,11.3],
[2023.47,10.7],[2023.34,9.4],[2024.48,9.8],[2024.72,9.9],
[2010.04,-12.5],[2010.59,-12],[2010.63,-10.3],[2010.81,-11.3],[2010.15,-10.3],[2011,-9.8],[2011.6,-10.9],[2011.47,-9.3],[2012.29,-10.1],[2012.38,-9],
[2013.06,-11],[2013.06,-12.5],[2013.15,-9.5],[2013.4,-11.6],[2013.25,-8.1],[2013.8,-10.5],[2013.96,-10.6],[2014.18,-7.5],[2014.55,-8.7],[2014.76,-10.3],
[2015.06,-11.8],[2015.17,-11.9],[2015.48,-10.9],[2015.71,-11.2],[2015.98,-11],[2016.19,-12],[2016.56,-9.5],[2016.7,-9.8],[2017.14,-9.4],[2017.94,-9.7],
[2018.24,-8.1],[2018.62,-8.9],[2018.91,-8.4],[2019.13,-8.2],[2019.68,-10.3],[2019.81,-11.4],[2019.84,-12.3],[2020,-10.9],[2020.21,-9.2],[2020.6,-7.5],
[2020.8,-8.9],[2021.59,-9.2],[2021.91,-10.5],[2022.47,-10.8],[2022.61,-9.5]];

const cloudHi = [northHi, eastHi, upHi];
const cloudLo = [northLo, eastLo, upLo];
const cloudPoints = [northPoints, eastPoints, upPoints];
const cloudFringe = [northFringe, eastFringe, upFringe];
const yTicks = [northTicks, eastTicks, upTicks];

const FONT = '"Liberation Sans", Arial, sans-serif';
const BLUE = '#0000ff', ERR = '#ff3030', DOT = 13;
const gridTop = [200.5, 1264, 2327.5], gridH = 946, gridL = 295.5, gridW = 1890;

// Texture of the dense cloud: error-bar caps seen between the dots.
function makeTile() {
  const c = document.createElement('canvas'); c.width = 84; c.height = 60;
  const g = c.getContext('2d'); g.fillStyle = BLUE; g.fillRect(0, 0, 84, 60);
  g.fillStyle = '#e8104a';
  const dashes = [[4,4,12],[34,2,10],[62,7,13],[18,11,11],[48,14,12],[72,13,10],[6,20,10],[36,23,13],[64,26,11],
    [20,29,12],[50,33,10],[74,34,9],[2,38,13],[32,41,10],[60,44,12],[16,47,11],[44,50,12],[70,52,10],[4,55,11],[30,57,12]];
  dashes.forEach(d => g.fillRect(d[0], d[1], d[2], 2));
  return c;
}
const tile = makeTile();
const tilePattern = { type: 'pattern', image: tile, repeat: 'repeat' };

function whisker(api, t, a, b) {
  const p1 = api.coord([t, a]), p2 = api.coord([t, b]), cap = 6.5;
  const st = { stroke: ERR, lineWidth: 1, opacity: 0.75, fill: null };
  return [
    { type: 'line', shape: { x1: p1[0], y1: p1[1], x2: p2[0], y2: p2[1] }, style: st },
    { type: 'line', shape: { x1: p1[0]-cap, y1: p1[1], x2: p1[0]+cap, y2: p1[1] }, style: st },
    { type: 'line', shape: { x1: p2[0]-cap, y1: p2[1], x2: p2[0]+cap, y2: p2[1] }, style: st }
  ];
}

const grids = [], xAxes = [], yAxes = [], series = [];
panelNames.forEach((name, i) => {
  const lim = yLimits[i];
  grids.push({ left: gridL, top: gridTop[i], width: gridW, height: gridH, show: true, outerBoundsMode: 'none',
    borderColor: '#000', borderWidth: 5, backgroundColor: '#fff', containLabel: false });
  const xBase = { gridIndex: i, type: 'value', min: 1994, max: 2027, splitLine: { show: false }, axisLine: { show: false } };
  xAxes.push(Object.assign({}, xBase, { position: 'bottom',
    axisTick: { show: true, length: 24, customValues: xTicks, lineStyle: { color: '#000', width: 2 } },
    axisLabel: { show: true, customValues: xTicks, formatter: v => String(v), margin: 46, fontFamily: FONT, fontSize: 56, color: '#000' } }));
  xAxes.push(Object.assign({}, xBase, { position: 'top',
    axisTick: { show: true, length: 24, customValues: xTicks, lineStyle: { color: '#000', width: 2 } },
    axisLabel: { show: false } }));
  const yBase = { gridIndex: i, type: 'value', min: -lim, max: lim, splitLine: { show: false }, axisLine: { show: false } };
  yAxes.push(Object.assign({}, yBase, { position: 'left', name: name, nameLocation: 'middle', nameGap: 185, nameRotate: 90,
    nameTextStyle: { fontFamily: FONT, fontSize: 100, color: '#000' },
    axisTick: { show: true, length: 24, customValues: yTicks[i], lineStyle: { color: '#000', width: 2 } },
    axisLabel: { show: true, customValues: yTicks[i], formatter: v => '{v|' + String(v).replace('-', '\u2212') + '}', margin: 51,
      rich: { v: { fontFamily: FONT, fontSize: 56, color: '#000', padding: [8, 0, 0, 0] } }, fontFamily: FONT, fontSize: 56, color: '#000' } }));
  yAxes.push(Object.assign({}, yBase, { position: 'right',
    axisTick: { show: true, length: 24, customValues: yTicks[i], lineStyle: { color: '#000', width: 2 } },
    axisLabel: { show: false } }));

  const ax = { xAxisIndex: i * 2, yAxisIndex: i * 2 };
  const vline = (years, color, width, z) => Object.assign({ type: 'custom', z, silent: true, clip: false, data: years.map(y => [y]),
    encode: { x: 0 },
    renderItem: (p, api) => {
      const x = api.coord([api.value(0), 0])[0], cs = p.coordSys;
      return { type: 'line', shape: { x1: x, y1: cs.y, x2: x, y2: cs.y + cs.height }, style: { stroke: color, lineWidth: width } };
    } }, ax);
  series.push(vline(redBreaks, '#ff8080', 1.2, 1));

  const s = cloudSigma[i];
  const band = binYears.map((t, k) => [t, cloudLo[i][k], cloudHi[i][k]]).filter(r => r[1] !== null);
  const fringe = cloudFringe[i].map(r => [r[0], r[1], s]);
  const isolated = cloudPoints[i].concat(fringe);
  // error bars at the cloud edges
  series.push(Object.assign({ type: 'custom', z: 3, silent: true, data: band, encode: { x: 0, y: [1, 2] },
    renderItem: (p, api) => ({ type: 'group', children: whisker(api, api.value(0), api.value(1) - s, api.value(2) + s) }) }, ax));
  series.push(Object.assign({ type: 'custom', z: 3, silent: true, data: isolated, encode: { x: 0, y: 1 },
    renderItem: (p, api) => ({ type: 'group', children: whisker(api, api.value(0), api.value(1) - api.value(2), api.value(1) + api.value(2)) }) }, ax));
  // dense cloud
  series.push(Object.assign({ type: 'custom', z: 5, silent: true, data: band, encode: { x: 0, y: [1, 2] },
    renderItem: (p, api) => {
      const lo = api.coord([api.value(0), api.value(1)]), hi = api.coord([api.value(0), api.value(2)]);
      const r = DOT / 2;
      return { type: 'group', children: [
        { type: 'rect', shape: { x: hi[0] - r, y: hi[1], width: 2 * r, height: lo[1] - hi[1] }, style: { fill: tilePattern } },
        { type: 'circle', shape: { cx: hi[0], cy: hi[1], r: r }, style: { fill: BLUE } },
        { type: 'circle', shape: { cx: lo[0], cy: lo[1], r: r }, style: { fill: BLUE } }
      ] };
    } }, ax));
  series.push(Object.assign({ type: 'scatter', z: 6, silent: true, symbol: 'circle', symbolSize: DOT, data: isolated.map(r => [r[0], r[1]]),
    itemStyle: { color: BLUE, opacity: 1 } }, ax));
  series.push(vline(greenBreaks, '#00ff00', 5.5, 8));
  // zero line
  series.push(Object.assign({ type: 'custom', z: 9, silent: true, clip: false, data: [[0]], encode: { y: 0 },
    renderItem: (p, api) => {
      const y = api.coord([2000, api.value(0)])[1], cs = p.coordSys;
      return { type: 'line', shape: { x1: cs.x, y1: y, x2: cs.x + cs.width, y2: y }, style: { stroke: '#333', lineWidth: 2 } };
    } }, ax));
});

const chart = echarts.init(document.getElementById('c'), null, { renderer: 'canvas', width: 2479, height: 3508 });
chart.setOption({
  animation: false, backgroundColor: '#fff',
  title: { text: stationTitle, left: 1233, top: 57, textAlign: 'center',
    textStyle: { fontFamily: FONT, fontWeight: 'bold', fontSize: 107, color: '#000' } },
  grid: grids, xAxis: xAxes, yAxis: yAxes, series: series
});
</script></body></html>
